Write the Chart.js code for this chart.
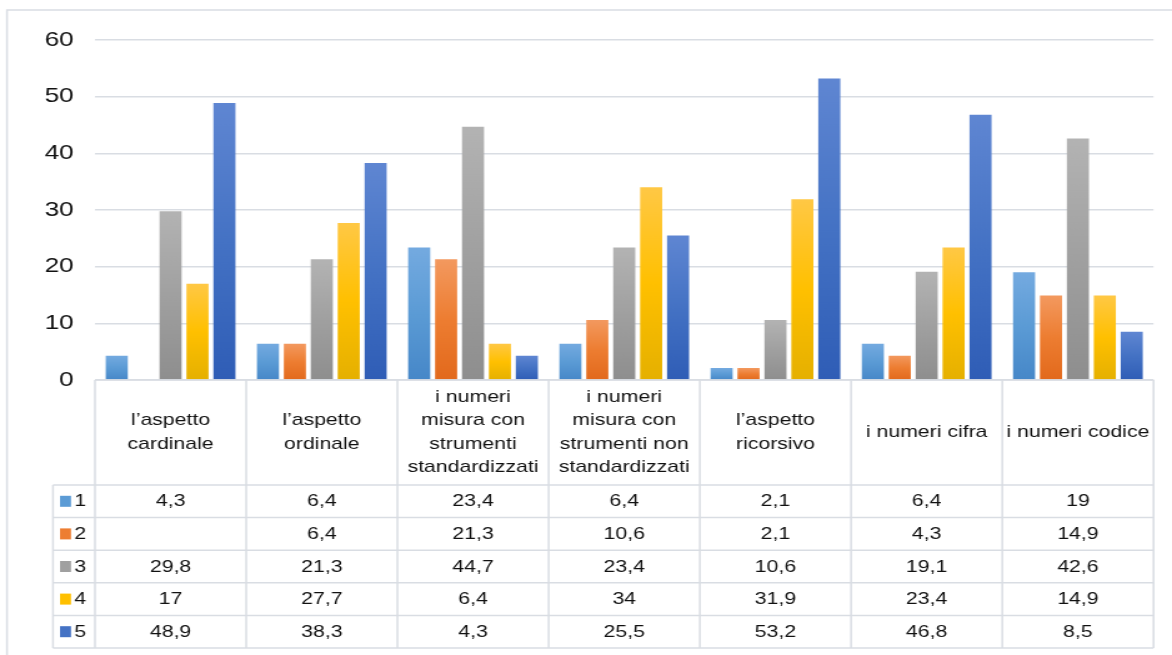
<!DOCTYPE html>
<html><head><meta charset="utf-8">
<script src="https://cdn.jsdelivr.net/npm/chart.js@4.4.1/dist/chart.umd.min.js"></script>
<style>
html,body{margin:0;padding:0;background:#fff;overflow:hidden;width:1172px;height:655px;}
#wrap{position:absolute;left:0;top:0;width:938px;height:655px;transform:scaleX(1.249467);transform-origin:0 0;}
canvas{display:block;}
</style></head><body>
<div id="wrap"><canvas id="c" width="938" height="655"></canvas></div>
<script>
// ---- data ----
const categories = [
  ["l’aspetto", "cardinale"],
  ["l’aspetto", "ordinale"],
  ["i numeri", "misura con", "strumenti", "standardizzati"],
  ["i numeri", "misura con", "strumenti non", "standardizzati"],
  ["l’aspetto", "ricorsivo"],
  ["i numeri cifra"],
  ["i numeri codice"]
];
const seriesNames = ["1", "2", "3", "4", "5"];
const series1 = [4.3, 6.4, 23.4, 6.4, 2.1, 6.4, 19];
const series2 = [null, 6.4, 21.3, 10.6, 2.1, 4.3, 14.9];
const series3 = [29.8, 21.3, 44.7, 23.4, 10.6, 19.1, 42.6];
const series4 = [17, 27.7, 6.4, 34, 31.9, 23.4, 14.9];
const series5 = [48.9, 38.3, 4.3, 25.5, 53.2, 46.8, 8.5];
const yTickValues = [0, 10, 20, 30, 40, 50, 60];

// ---- styles ----
const seriesData = [series1, series2, series3, series4, series5];
const gradStops = [
  ["#74aae0", "#5b9bd5", "#4687c8"],
  ["#f3995f", "#ed7d31", "#e2691c"],
  ["#b3b3b3", "#a0a0a0", "#8e8e8e"],
  ["#ffc845", "#ffc000", "#e5b000"],
  ["#5f86d2", "#4472c4", "#2f5db6"]
];
const FONT = '"Liberation Sans", Arial, sans-serif';
const LINE = "#d9dde3";
const TEXT = "#111111";

function barFill(si) {
  return function (c) {
    const chart = c.chart;
    const ys = chart.scales && chart.scales.y;
    const st = gradStops[si];
    if (!ys || c.type !== "data" || !c.parsed || c.parsed.y == null) return st[1];
    const top = ys.getPixelForValue(c.parsed.y);
    const bot = ys.getPixelForValue(0);
    if (!isFinite(top) || !isFinite(bot) || top === bot) return st[1];
    const g = chart.ctx.createLinearGradient(0, top, 0, bot);
    g.addColorStop(0, st[0]);
    g.addColorStop(0.5, st[1]);
    g.addColorStop(1, st[2]);
    return g;
  };
}

const tablePlugin = {
  id: "dataTable",
  beforeDraw(chart) {
    const ctx = chart.ctx;
    ctx.save();
    ctx.strokeStyle = LINE;
    ctx.lineWidth = 1.5;
    ctx.beginPath();
    ctx.moveTo(5.6, 655);
    ctx.lineTo(5.6, 10);
    ctx.lineTo(938, 10);
    ctx.stroke();
    ctx.restore();
  },
  afterDraw(chart) {
    const ctx = chart.ctx;
    const xs = chart.scales.x;
    const area = chart.chartArea;
    const n = categories.length;
    const colW = (area.right - area.left) / n;
    const headTop = area.bottom;
    const headBot = 485;
    const rowH = 32.6;
    const tableLeft = 42.4;
    const tableBottom = headBot + rowH * seriesData.length;

    ctx.save();
    ctx.strokeStyle = LINE;
    ctx.lineWidth = 1.5;
    ctx.beginPath();
    // horizontal lines
    ctx.moveTo(area.left, headTop); ctx.lineTo(area.right, headTop);
    for (let r = 0; r <= seriesData.length; r++) {
      const y = headBot + r * rowH;
      ctx.moveTo(tableLeft, y); ctx.lineTo(area.right, y);
    }
    // vertical lines
    for (let i = 0; i <= n; i++) {
      const x = (i < n ? xs.getPixelForValue(i) - colW / 2 : xs.getPixelForValue(n - 1) + colW / 2);
      ctx.moveTo(x, headTop); ctx.lineTo(x, tableBottom);
    }
    ctx.moveTo(tableLeft, headBot); ctx.lineTo(tableLeft, tableBottom);
    ctx.stroke();

    // header labels
    ctx.fillStyle = TEXT;
    ctx.font = "17px " + FONT;
    ctx.textAlign = "center";
    ctx.textBaseline = "middle";
    const lh = 23.5;
    const headMid = (headTop + headBot) / 2;
    categories.forEach((lines, i) => {
      const x = xs.getPixelForValue(i);
      const y0 = headMid - (lines.length - 1) * lh / 2;
      lines.forEach((t, k) => ctx.fillText(t, x, y0 + k * lh));
    });

    // rows
    seriesData.forEach((arr, r) => {
      const yMid = headBot + r * rowH + rowH / 2;
      // legend key
      ctx.fillStyle = gradStops[r][1];
      ctx.fillRect(48, yMid - 5.5, 8.8, 11);
      ctx.fillStyle = TEXT;
      ctx.textAlign = "left";
      ctx.fillText(seriesNames[r], 59.5, yMid + 0.5);
      ctx.textAlign = "center";
      arr.forEach((v, i) => {
        if (v == null) return;
        ctx.fillText(String(v).replace(".", ","), xs.getPixelForValue(i), yMid + 0.5);
      });
    });
    ctx.restore();
  }
};

new Chart(document.getElementById("c"), {
  type: "bar",
  data: {
    labels: categories,
    datasets: seriesData.map((d, si) => ({
      label: seriesNames[si],
      data: d,
      backgroundColor: barFill(si),
      borderWidth: 0,
      categoryPercentage: 0.89,
      barPercentage: 0.82
    }))
  },
  options: {
    responsive: false,
    animation: false,
    devicePixelRatio: 1,
    layout: { padding: { left: 0, right: 14.8, top: 40, bottom: 275 } },
    plugins: { legend: { display: false }, tooltip: { enabled: false } },
    scales: {
      x: {
        display: true,
        grid: { display: false, drawTicks: false },
        border: { display: false },
        ticks: { display: false }
      },
      y: {
        min: yTickValues[0],
        max: yTickValues[yTickValues.length - 1],
        ticks: {
          stepSize: yTickValues[1] - yTickValues[0],
          color: TEXT,
          font: { family: FONT, size: 21 },
          padding: 17
        },
        grid: { color: LINE, lineWidth: 1.5, drawTicks: false },
        border: { display: false },
        afterFit(scale) { scale.width = 76; }
      }
    }
  },
  plugins: [tablePlugin]
});
</script>
</body></html>
